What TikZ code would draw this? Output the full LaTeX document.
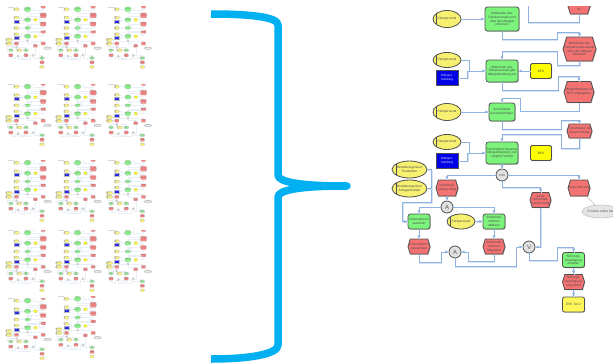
\documentclass[tikz,border=0pt]{standalone}
\usepackage{fontspec}
\setmainfont{Liberation Sans}
\usetikzlibrary{shapes.geometric,shapes.symbols,arrows.meta,shadows,calc}
\definecolor{bracketc}{HTML}{00B0F0}
\definecolor{gboxc}{HTML}{7CF47C}
\definecolor{rboxc}{HTML}{F47272}
\definecolor{yboxc}{HTML}{FFFF00}
\definecolor{eboxc}{HTML}{F8F070}
\definecolor{bboxc}{HTML}{0000E6}
\definecolor{linec}{HTML}{8FB2E0}
\definecolor{halo}{HTML}{D6E3F3}
\definecolor{thumbline}{HTML}{E6EDF6}
\definecolor{edgec}{HTML}{505050}
\tikzset{
  txt/.style={font=\fontsize{3.2}{3.8}\selectfont,align=center,text=black!70,inner sep=0pt},
  base/.style={draw=edgec,txt,sh,inner sep=0pt},
  gbox/.style={base,fill=gboxc,rounded corners=2.5pt,line width=\epkw},
  ybox/.style={base,fill=yboxc,rounded corners=1.5pt,line width=\epkw},
  bbox/.style={base,fill=bboxc,text=white!85!blue,line width=\epkw},
  rhex/.style={signal,signal to=east and west,signal pointer angle=146,draw=edgec,fill=rboxc,sh,line width=\epkw,inner sep=0pt},
  org/.style={ellipse,draw=edgec,fill=eboxc,txt,inner xsep=-3pt,inner ysep=0pt,line width=\epkw,
    path picture={\draw[edgec,line width=\epkw]
      ($(path picture bounding box.north west)!.13!(path picture bounding box.north east)$) --
      ($(path picture bounding box.south west)!.13!(path picture bounding box.south east)$);}},
  pe/.style={ellipse,draw=black!30,fill=black!10,txt,inner xsep=-3pt,inner ysep=0pt,line width=.4pt},
  gate/.style={circle,draw=edgec,fill=black!12,inner sep=0pt,minimum size=12pt,line width=\epkw,text=black!65,font=\fontsize{6}{6}\selectfont},
  mainstyle/.style={
    sh/.style={drop shadow={shadow xshift=.7pt,shadow yshift=-.7pt,opacity=.3,fill=black}},
    conn/.style={linec,line width=.8pt,-{Latex[length=3.2pt,width=3.2pt]},
      preaction={draw=halo,line width=.8pt,-,transform canvas={shift={(.7pt,-.7pt)}}}},
    plain/.style={linec,line width=.8pt,
      preaction={draw=halo,line width=.8pt,transform canvas={shift={(.7pt,-.7pt)}}}},
    lead/.style={black!30,line width=.4pt}},
  thumbstyle/.style={opacity=.85,
    sh/.style={},
    conn/.style={thumbline,line width=.3pt},
    plain/.style={thumbline,line width=.3pt},
    lead/.style={black!12,line width=.2pt}}
}
\newcommand{\epkdiagram}[1]{%
  \clip (385,6.5) rectangle (#1,340);
  % nodes
  \node[rhex,minimum width=24pt,minimum height=22pt,label={[txt,yshift=-6.5pt]center:ist}] (rtop) at (579,3) {};
  \node[org,minimum width=28pt,minimum height=17pt] (e1) at (447,19) {Fahrpersonal};
  \node[gbox,minimum width=34pt,minimum height=24pt] (g1) at (502,19) {Mitarbeiter des\\Fahrpersonals wird\\über den Mangel\\informiert};
  \node[rhex,minimum width=33pt,minimum height=24pt,label={[txt]center:Mitarbeiter des\\Fahrpersonals wurde\\über den Mangel\\informiert}] (r2) at (579.5,49) {};
  \node[org,minimum width=28pt,minimum height=15pt] (e2) at (447,60) {Fahrpersonal};
  \node[bbox,minimum width=22pt,minimum height=15pt] (b2) at (447,78) {Mängel-\\meldung};
  \node[gbox,minimum width=32pt,minimum height=22pt] (g2) at (502,71) {Mitarbeiter des\\Fahrpersonals gibt\\Mängelmeldung ein};
  \node[ybox,minimum width=21pt,minimum height=15pt] (y2) at (541,71) {BPS};
  \node[rhex,minimum width=30pt,minimum height=21pt,label={[txt]center:Mängelmeldung im\\BPS eingegeben}] (r3) at (579,92) {};
  \node[org,minimum width=28pt,minimum height=17pt] (e3) at (447,112) {Fahrpersonal};
  \node[gbox,minimum width=26pt,minimum height=18pt] (g3) at (502,112) {Schichtleiter\\benachrichtigen};
  \node[rhex,minimum width=25pt,minimum height=14pt,label={[txt]center:Schichtleiter ist\\benachrichtigt}] (r4) at (579.5,131) {};
  \node[org,minimum width=28pt,minimum height=15pt] (e4) at (447,142) {Fahrpersonal};
  \node[bbox,minimum width=22pt,minimum height=15pt] (b4) at (447,161) {Mängel-\\meldung};
  \node[gbox,minimum width=32pt,minimum height=22pt] (g4) at (502,153) {Schichtleiter bewertet\\Mängelmeldung und\\vergibt Priorität};
  \node[ybox,minimum width=21pt,minimum height=15pt] (y4) at (541,153) {BPS};
  \node[gate,font=\fontsize{3}{3}\selectfont] (xor) at (502,175) {XOR};
  \node[org,minimum width=35pt,minimum height=17pt] (o1) at (409.5,169.5) {Betriebsingenieur\\Produktion};
  \node[org,minimum width=35pt,minimum height=17pt] (o2) at (409.5,188.5) {Betriebsingenieur\\Anlagenbetrieb};
  \node[rhex,minimum width=22pt,minimum height=16pt,label={[txt]center:Sofortmaß-\\nahme nötig}] (r5) at (447,188) {};
  \node[rhex,minimum width=22pt,minimum height=16pt,label={[txt]center:Keine Störung}] (r6) at (579,188) {};
  \node[rhex,minimum width=21pt,minimum height=15pt,label={[txt]center:Keine\\Sofortmaß-\\nahme nötig}] (r7) at (540.5,200) {};
  \node[pe,minimum width=38pt,minimum height=13pt] (pe1) at (601,211.5) {Prozess ender hier};
  \node[gate] (a1) at (447,207) {A};
  \node[gbox,minimum width=22pt,minimum height=15pt] (g5) at (419,221.5) {Informationen\\sammeln};
  \node[org,minimum width=28pt,minimum height=15pt] (e5) at (461,221.5) {Fahrpersonal};
  \node[gbox,minimum width=22pt,minimum height=15pt] (g6) at (494,221.5) {Sofortmaß-\\nahmen\\ableiten};
  \node[rhex,minimum width=22pt,minimum height=15pt,label={[txt]center:Informationen\\gesammelt}] (r8) at (419,246.5) {};
  \node[rhex,minimum width=22pt,minimum height=15pt,label={[txt]center:Sofortmaß-\\nahmen\\abgeleitet}] (r9) at (494,246.5) {};
  \node[gate] (a2) at (455,252) {A};
  \node[gate] (or1) at (529,247) {V};
  \node[gbox,minimum width=22pt,minimum height=15pt] (g7) at (573.5,260) {Störungs-\\beseitigung\\einleiten};
  \node[rhex,minimum width=22pt,minimum height=15pt,label={[txt]center:Störungs-\\beseitigung\\eingeleitet}] (r10) at (573.5,282) {};
  \node[ybox,fill=yellow!65,rounded corners=2pt,minimum width=22pt,minimum height=15pt] (e8) at (573.5,304.5) {EPK Teil 2};
  \coordinate (topin) at (528,5);
  \coordinate (j2) at (469,71);
  \coordinate (j4) at (469,153);
  \coordinate (jo) at (431,188.5);
  % connectors
  \draw[plain] (rtop.south) -- ++(0,8) -| (topin);
  \draw[conn] (e1) -- (g1);
  \draw[conn] (g1.south) -- ++(0,8) -- ++(55,0) -- ++(0,-7) -| (r2.north);
  \draw[conn] (r2.south) -- ++(0,4) -- ++(-22.5,0) -- ++(0,-14) -| (g2.north);
  \draw[plain] (e2.east) -| (j2);
  \draw[conn] (b2.east) -- ++(9,0) |- (g2.west);
  \draw[conn] (y2) -- (g2);
  \draw[conn] (g2.south) -- ++(0,8) -- ++(56,0) -- ++(0,-14) -| (r3.north);
  \draw[conn] (r3.south) -- ++(0,8) -- ++(-59,0) -- ++(0,-13) -| (g3.north);
  \draw[conn] (e3) -- (g3);
  \draw[conn] (g3.south) -- ++(0,8) -- ++(59,0) -- ++(0,-9) -| (r4.north);
  \draw[conn] (r4.south) -- ++(0,10) -- ++(-18.5,0) -- ++(0,-14) -| (g4.north);
  \draw[plain] (e4.east) -| (j4);
  \draw[conn] (b4.east) -- ++(9,0) |- (g4.west);
  \draw[conn] (g4) -- (xor);
  \draw[conn] (xor.west) -| (r5.north);
  \draw[conn] (xor.east) -| (r6.north);
  \draw[conn] (xor.south) -- ++(0,6) -| (r7.north);
  \draw[lead] (r6) -- (pe1);
  \draw[conn] (o1.east) -- ++(4,0) -- ++(0,33) -- ++(-29,0) |- (g5.west);
  \draw[plain] (o2.east) -- (jo);
  \draw[conn] (r5) -- (a1);
  \draw[conn] (a1.west) -| (g5.north);
  \draw[conn] (a1.east) -| (g6.north);
  \draw[conn] (e5) -- (g6);
  \draw[conn] (g5) -- (r8);
  \draw[conn] (g6) -- (r9);
  \draw[conn] (r8.south) -- ++(0,8) -- ++(22,0) |- (a2.west);
  \draw[conn] (r9.south) -- ++(0,7) -- ++(-26,0) |- (a2.east);
  \draw[conn] (a2.south) -- ++(0,8) -- ++(61,0) |- (or1.west);
  \draw[conn] (r7.south) |- (or1.east);
  \draw[conn] (or1.south) -- ++(0,7) -- ++(28,0) -- ++(0,-13) -| (g7.north);
  \draw[conn] (g7) -- (r10);
  \draw[conn] (r10) -- (e8);
}
\newcommand{\epkthumb}[3]{%
  \begin{scope}[shift={(#1,#2)},scale=.202,transform shape,thumbstyle,name prefix=#3-]
    \def\epkw{.2pt}
    \colorlet{edgec}{black!30}
    \epkdiagram{640}
    \draw[black!18,line width=.4pt] (403,8) -- (437,8);
  \end{scope}}
\begin{document}
\begin{tikzpicture}[x=1pt,y=-1pt]
  \useasboundingbox (0,0) rectangle (613,364);
  \fill[white] (0,0) rectangle (613,364);
  % thumbnails
  \epkthumb{-73.8}{5.5}{a1}
  \epkthumb{-23.8}{5.5}{a2}
  \epkthumb{26.5}{5.5}{a3}
  \epkthumb{-73.8}{82.8}{b1}
  \epkthumb{-23.8}{82.8}{b2}
  \epkthumb{26.5}{82.8}{b3}
  \epkthumb{-73.8}{158.9}{c1}
  \epkthumb{-23.8}{158.9}{c2}
  \epkthumb{26.5}{158.9}{c3}
  \epkthumb{-73.8}{228.9}{d1}
  \epkthumb{-23.8}{228.9}{d2}
  \epkthumb{26.5}{228.9}{d3}
  \epkthumb{-73.8}{296.9}{e1}
  \epkthumb{-23.8}{295}{e2}
  % bracket
  \draw[bracketc,line width=7.5pt,line join=round]
    (211,14) .. controls (250,14) and (278,17) .. (278,25) -- (278,175)
    .. controls (278,182) and (300,186) .. (347,186);
  \draw[bracketc,line width=7.5pt,line join=round]
    (347,186) .. controls (300,186) and (278,190) .. (278,197) -- (278,345)
    .. controls (278,354) and (250,359) .. (211,359);
  \fill[bracketc] (347,186) circle[radius=3.75pt];
  % main diagram
  \begin{scope}[mainstyle,name prefix=m-]
    \def\epkw{.8pt}
    \epkdiagram{613}
  \end{scope}
\end{tikzpicture}
\end{document}
